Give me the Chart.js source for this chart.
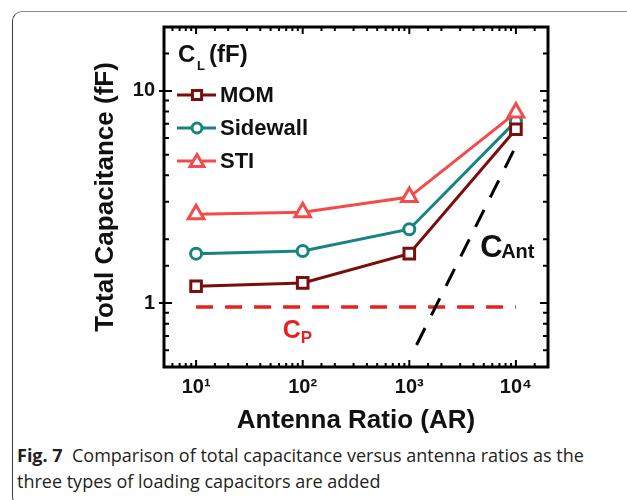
<!DOCTYPE html>
<html><head><meta charset="utf-8">
<script src="https://cdn.jsdelivr.net/npm/chart.js@4"></script>
<style>
html,body{margin:0;padding:0;background:#fff;width:627px;height:500px;overflow:hidden;}
#frame{position:absolute;left:12px;top:11px;width:700px;height:496px;border:1px solid #8a8a8a;border-left-color:#3a3a3a;border-radius:10px;box-sizing:border-box;}
#wrap{position:absolute;left:0;top:0;width:627px;height:440px;}
#cap{position:absolute;left:17px;top:442px;width:610px;font-family:"Open Sans",sans-serif;font-size:18px;line-height:26px;color:#231f20;white-space:nowrap;}
#cap b{font-weight:700;}
</style></head><body>
<div id="frame"></div>
<div id="wrap"><canvas id="c" width="627" height="440"></canvas></div>
<div id="cap"><b>Fig. 7</b>&nbsp; Comparison of total capacitance versus antenna ratios as the<br>three types of loading capacitors are added</div>
<script>
// ---- data ----
const antennaRatio = [10, 100, 1000, 10000];
const momCap = [1.20, 1.245, 1.71, 6.6];
const sidewallCap = [1.71, 1.76, 2.23, 7.2];
const stiCap = [2.62, 2.68, 3.16, 7.9];
const parasiticAR = [10, 10000];
const parasiticCap = [0.96, 0.96];
const antennaAR = [1170, 10000];
const antennaCap = [0.635, 5.5];
const seriesNames = ['MOM', 'Sidewall', 'STI'];
const xTickLabels = {'1': '10¹', '2': '10²', '3': '10³', '4': '10⁴'};
const yTickLabels = {'0': '1', '1': '10'};

const COL_MOM = '#7b0d0d', COL_SW = '#178484', COL_STI = '#f54a4a', COL_CP = '#e8211f';
const FONT = '"Liberation Sans", Arial, sans-serif';

function pts(xs, ys) { return xs.map((x, i) => ({x: x, y: ys[i]})); }
function isPow10(v) { const e = Math.log10(v); return Math.abs(e - Math.round(e)) < 1e-9; }

const datasets = [
  {label: seriesNames[0], data: pts(antennaRatio, momCap), borderColor: COL_MOM, pointBorderColor: COL_MOM,
   pointStyle: 'rect', pointRadius: 7.5, order: 1},
  {label: seriesNames[1], data: pts(antennaRatio, sidewallCap), borderColor: COL_SW, pointBorderColor: COL_SW,
   pointStyle: 'circle', pointRadius: 5.5, order: 3},
  {label: seriesNames[2], data: pts(antennaRatio, stiCap), borderColor: COL_STI, pointBorderColor: COL_STI,
   pointStyle: 'triangle', pointRadius: 9, order: 2},
].map(d => Object.assign({borderWidth: 3, pointBorderWidth: 3, pointBackgroundColor: '#fff', fill: false, tension: 0}, d));

datasets.push({label: 'CP', data: pts(parasiticAR, parasiticCap), borderColor: COL_CP, borderWidth: 3.5,
  borderDash: [17, 12], pointRadius: 0, fill: false, order: 5, isRef: true});
datasets.push({label: 'CAnt', data: pts(antennaAR, antennaCap), borderColor: '#000', borderWidth: 3,
  borderDash: [19, 14], pointRadius: 0, fill: false, order: 4, isRef: true});

function markerPath(ctx, style, x, y, r) {
  ctx.beginPath();
  if (style === 'rect') { const s = r * Math.SQRT1_2; ctx.rect(x - s, y - s, 2 * s, 2 * s); }
  else if (style === 'circle') { ctx.arc(x, y, r, 0, Math.PI * 2); }
  else if (style === 'triangle') {
    for (let k = 0; k < 3; k++) { const a = -Math.PI / 2 + k * 2 * Math.PI / 3;
      const px = x + r * Math.cos(a), py = y + r * Math.sin(a); k ? ctx.lineTo(px, py) : ctx.moveTo(px, py); }
    ctx.closePath();
  }
}

const decorPlugin = {
  id: 'decor',
  afterDraw(chart) {
    const ctx = chart.ctx, ca = chart.chartArea, xs = chart.scales.x, ys = chart.scales.y;
    ctx.save();
    // ticks (inward, all four sides)
    ctx.strokeStyle = '#000'; ctx.lineWidth = 2; ctx.setLineDash([]);
    ctx.beginPath();
    xs.ticks.forEach(t => {
      const p = xs.getPixelForValue(t.value);
      if (p < ca.left + 1 || p > ca.right - 1) return;
      const len = isPow10(t.value) ? 7 : 4;
      ctx.moveTo(p, ca.bottom); ctx.lineTo(p, ca.bottom - len);
      ctx.moveTo(p, ca.top); ctx.lineTo(p, ca.top + len);
    });
    ys.ticks.forEach(t => {
      const p = ys.getPixelForValue(t.value);
      if (p < ca.top + 1 || p > ca.bottom - 1) return;
      const maj = isPow10(t.value);
      const len = maj ? 8 : 5;
      ctx.moveTo(ca.left - (maj ? 5 : 0), p); ctx.lineTo(ca.left + len, p);
      ctx.moveTo(ca.right, p); ctx.lineTo(ca.right - len, p);
    });
    ctx.stroke();
    // frame
    ctx.lineWidth = 3;
    ctx.strokeRect(ca.left, ca.top, ca.right - ca.left, ca.bottom - ca.top);

    // legend
    ctx.fillStyle = '#111'; ctx.textBaseline = 'alphabetic'; ctx.textAlign = 'left';
    ctx.font = 'bold 24px ' + FONT;
    ctx.fillText('C', ca.left + 14, ca.top + 35);
    ctx.font = 'bold 13px ' + FONT;
    ctx.fillText('L', ca.left + 33, ca.top + 43);
    ctx.font = 'bold 24px ' + FONT;
    ctx.fillText('(fF)', ca.left + 45, ca.top + 35);
    const rowY = [ca.top + 68, ca.top + 101, ca.top + 134];
    const legR = {rect: 6.5, circle: 5, triangle: 8};
    chart.data.datasets.filter(d => !d.isRef).forEach((d, i) => {
      const y = rowY[i], cx = ca.left + 33;
      ctx.strokeStyle = d.borderColor; ctx.lineWidth = 3;
      ctx.beginPath(); ctx.moveTo(ca.left + 13, y); ctx.lineTo(ca.left + 52, y); ctx.stroke();
      markerPath(ctx, d.pointStyle, cx, y + (d.pointStyle === 'triangle' ? 1.5 : 0), legR[d.pointStyle]);
      ctx.fillStyle = '#fff'; ctx.fill(); ctx.stroke();
      ctx.fillStyle = '#111'; ctx.font = 'bold 22px ' + FONT; ctx.textBaseline = 'middle';
      ctx.fillText(d.label, ca.left + 56, y + 1);
    });

    // curve labels
    ctx.textBaseline = 'alphabetic';
    let px = xs.getPixelForValue(65), py = ys.getPixelForValue(0.685);
    ctx.fillStyle = COL_CP;
    ctx.font = 'bold 25px ' + FONT; ctx.fillText('C', px, py);
    ctx.font = 'bold 17px ' + FONT; ctx.fillText('P', px + 18, py + 5);
    px = xs.getPixelForValue(4620); py = ys.getPixelForValue(1.644);
    ctx.fillStyle = '#111';
    ctx.font = 'bold 31px ' + FONT; ctx.fillText('C', px, py);
    ctx.font = 'bold 20px ' + FONT; ctx.fillText('Ant', px + 21, py + 1);
    ctx.restore();
  }
};

new Chart(document.getElementById('c'), {
  type: 'line',
  data: {datasets: datasets},
  plugins: [decorPlugin],
  options: {
    responsive: false,
    animation: false,
    layout: {padding: {left: 90, right: 79, top: 27, bottom: 4}},
    plugins: {legend: {display: false}, tooltip: {enabled: false}},
    scales: {
      x: {
        type: 'logarithmic', position: 'bottom', min: 5, max: 20000,
        grid: {display: false, drawTicks: false}, border: {display: false},
        ticks: {autoSkip: false, maxRotation: 0, padding: 8, color: '#111',
          font: {family: FONT, size: 20, weight: 'bold'},
          callback: v => isPow10(v) ? (xTickLabels[String(Math.round(Math.log10(v)))] || '') : ''},
        title: {display: true, text: 'Antenna Ratio (AR)', color: '#111', padding: 0,
          font: {family: FONT, size: 26, weight: 'bold'}},
        afterFit: s => { s.height = 69; }
      },
      y: {
        type: 'logarithmic', position: 'left', min: 0.5, max: 20,
        grid: {display: false, drawTicks: false}, border: {display: false},
        ticks: {autoSkip: false, padding: 9, color: '#111',
          font: {family: FONT, size: 20, weight: 'bold'},
          callback: v => isPow10(v) ? (yTickLabels[String(Math.round(Math.log10(v)))] || '') : ''},
        title: {display: true, text: 'Total Capacitance (fF)', color: '#111', padding: 0,
          font: {family: FONT, size: 26, weight: 'bold'}},
        afterFit: s => { s.width = 74; }
      }
    }
  }
});
</script>
</body></html>
